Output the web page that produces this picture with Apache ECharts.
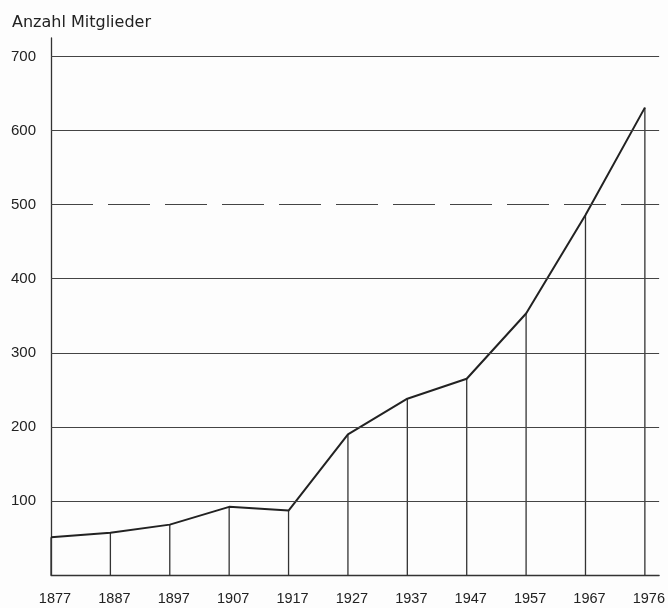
<!DOCTYPE html>
<html>
<head>
<meta charset="utf-8">
<script src="https://cdn.jsdelivr.net/npm/echarts@6/dist/echarts.min.js"></script>
<style>
  html, body { margin: 0; padding: 0; background: #fdfdfd; }
  #chart { width: 668px; height: 608px; }
</style>
</head>
<body>
<div id="chart"></div>
<script>
// Data
const years = ['1877', '1887', '1897', '1907', '1917', '1927', '1937', '1947', '1957', '1967', '1976'];
const members = [51, 57, 68, 92, 87, 190, 238, 265, 353, 486, 631];
const solidGridValues = [100, 200, 300, 400, 600, 700];
const dashedGridValues = [500];
const yTitle = 'Anzahl Mitglieder';

const pointData = members.map((v, i) => [i, v]);

const chart = echarts.init(document.getElementById('chart'), null, { renderer: 'canvas' });

const numFont = 'Liberation Sans';

chart.setOption({
  backgroundColor: '#fdfdfd',
  animation: false,
  title: {
    text: yTitle,
    left: 7,
    top: 10,
    textStyle: { fontFamily: 'DejaVu Sans', fontSize: 16, fontWeight: 'normal', color: '#222' }
  },
  grid: { left: 51, right: 8, top: 38, bottom: 33 },
  xAxis: {
    type: 'value',
    min: 0,
    max: 10.24,
    interval: 1,
    axisLine: { show: true, lineStyle: { color: '#333', width: 1.3 } },
    axisTick: { show: false },
    splitLine: { show: false },
    axisLabel: {
      margin: 16,
      fontFamily: numFont,
      fontSize: 14.5,
      color: '#222',
      padding: [0, 0, 0, 8],
      showMaxLabel: false,
      formatter: (v) => (Number.isInteger(v) && years[v] !== undefined) ? years[v] : ''
    }
  },
  yAxis: {
    type: 'value',
    min: 0,
    max: 725,
    interval: 100,
    axisLine: { show: true, lineStyle: { color: '#333', width: 1.3 } },
    axisTick: { show: false },
    splitLine: { show: false },
    axisLabel: {
      margin: 15,
      fontFamily: numFont,
      fontSize: 15,
      color: '#222',
      formatter: (v) => (v > 0 && v % 100 === 0) ? String(v) : ''
    }
  },
  series: [
    {
      type: 'bar',
      data: pointData,
      barWidth: 1.3,
      itemStyle: { color: '#333' },
      silent: true,
      z: 2
    },
    {
      type: 'line',
      data: pointData,
      symbol: 'none',
      lineStyle: { color: '#222', width: 2 },
      silent: true,
      z: 3,
      markLine: {
        silent: true,
        symbol: ['none', 'none'],
        label: { show: false },
        lineStyle: { color: '#444', width: 1.2, type: 'solid' },
        data: solidGridValues.map(v => ({ yAxis: v }))
      }
    },
    {
      type: 'line',
      data: [],
      silent: true,
      markLine: {
        silent: true,
        symbol: ['none', 'none'],
        label: { show: false },
        lineStyle: { color: '#444', width: 1.2, type: [42, 15], dashOffset: 0 },
        data: dashedGridValues.map(v => ({ yAxis: v }))
      }
    }
  ]
});
</script>
</body>
</html>
